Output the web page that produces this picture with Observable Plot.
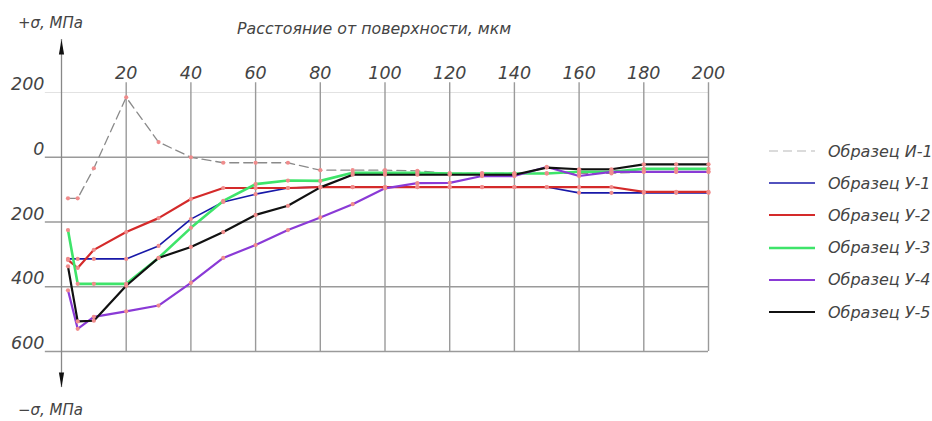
<!DOCTYPE html>
<html><head><meta charset="utf-8">
<script src="https://cdn.jsdelivr.net/npm/d3@7"></script>
<script src="https://cdn.jsdelivr.net/npm/@observablehq/plot@0.6"></script>
<style>
body{margin:0;background:#fff;}
#wrap{position:relative;width:932px;height:421px;overflow:hidden;font-family:"DejaVu Sans",sans-serif;font-style:italic;font-weight:200;color:#444;}
.lbl{position:absolute;white-space:nowrap;}
#legend{position:absolute;left:769px;top:135px;width:260px;white-space:nowrap;}
.row{display:flex;align-items:center;height:32.2px;font-size:16px;white-space:nowrap;}
.row svg{margin-right:13px;flex:none;}
</style>
</head><body>
<div id="wrap">
<div class="lbl" style="left:18px;top:14px;font-size:15px;">+σ, МПа</div>
<div class="lbl" style="left:18px;top:401px;font-size:15px;">−σ, МПа</div>
<div class="lbl" style="left:237px;top:19px;font-size:15.8px;">Расстояние от поверхности, мкм</div>
<div id="legend"></div>
</div>
<script>
// distance from surface, µm
const depth = [2, 5, 10, 20, 30, 40, 50, 60, 70, 80, 90, 100, 110, 120, 130, 140, 150, 160, 170, 180, 190, 200];
// residual stress, MPa
const sampleI1 = [-127, -127, -34, 185, 47, 0, -17, -17, -17, -40, -40, -40, -42, -50, -50, -50, -50, -50, -50, -45, -45, -45];
const sampleU1 = [-314, -314, -314, -314, -274, -191, -138, -114, -95, -92, -92, -92, -92, -92, -92, -92, -92, -110, -110, -110, -110, -110];
const sampleU2 = [-317, -342, -286, -231, -188, -129, -95, -95, -95, -92, -92, -92, -92, -92, -92, -92, -92, -92, -92, -107, -107, -107];
const sampleU3 = [-225, -391, -391, -391, -311, -218, -135, -83, -72, -73, -48, -48, -48, -50, -50, -50, -50, -45, -45, -36, -36, -36];
const sampleU4 = [-411, -530, -493, -476, -458, -388, -311, -271, -225, -186, -145, -96, -80, -79, -58, -58, -30, -58, -45, -45, -45, -45];
const sampleU5 = [-337, -507, -505, -397, -311, -277, -231, -178, -150, -93, -54, -54, -54, -54, -54, -54, -32, -37, -37, -22, -22, -22];
const seriesNames = ["Образец И-1", "Образец У-1", "Образец У-2", "Образец У-3", "Образец У-4", "Образец У-5"];
const xTicks = [20, 40, 60, 80, 100, 120, 140, 160, 180, 200];
const yTicks = [200, 0, -200, -400, -600];
const axisExtent = [-711, 364];

const seriesValues = [sampleI1, sampleU1, sampleU2, sampleU3, sampleU4, sampleU5];
const styles = [
  {stroke: "#8a8a8a", strokeWidth: 1.3, strokeDasharray: "9,5", legendStroke: "#d0d0d0"},
  {stroke: "#1818a8", strokeWidth: 1.6},
  {stroke: "#d42a2a", strokeWidth: 2.2},
  {stroke: "#3ee46a", strokeWidth: 2.6},
  {stroke: "#8a3ad6", strokeWidth: 2.2},
  {stroke: "#111111", strokeWidth: 2.2}
];
const data = seriesNames.map((name, k) => depth.map((x, i) => ({x, y: seriesValues[k][i], s: name})));
const all = data.flat();

const arrowHead = {draw(ctx) { ctx.moveTo(0, 0); ctx.lineTo(-2.6, 15); ctx.lineTo(2.6, 15); ctx.closePath(); }};

const chart = Plot.plot({
  width: 932, height: 421,
  marginLeft: 61, marginRight: 224, marginTop: 92, marginBottom: 70,
  x: {domain: [0, 200]},
  y: {domain: [-600, 200]},
  style: {fontFamily: "'DejaVu Sans', sans-serif", fontStyle: "italic", fontWeight: 200, fontSize: "17.5px", color: "#444", background: "transparent"},
  marks: [
    Plot.ruleY([200], {x1: -5, x2: 200, stroke: "#e2e2e2", strokeWidth: 1.2}),
    Plot.ruleY(yTicks.slice(1), {x1: -5, x2: 200, stroke: "#9a9a9a", strokeWidth: 1.4}),
    Plot.ruleX(xTicks, {y1: -600, y2: 230, stroke: "#9a9a9a", strokeWidth: 1.4}),
    Plot.ruleX([0], {y1: axisExtent[0], y2: axisExtent[1], stroke: "#888", strokeWidth: 1.3}),
    Plot.dot([{y: axisExtent[1]}], {x: () => 0, y: "y", symbol: arrowHead, fill: "#111", stroke: null}),
    Plot.dot([{y: axisExtent[0]}], {x: () => 0, y: "y", symbol: arrowHead, rotate: 180, fill: "#111", stroke: null}),
    ...data.map((d, k) => Plot.line(d, {x: "x", y: "y", stroke: styles[k].stroke, strokeWidth: styles[k].strokeWidth, strokeDasharray: styles[k].strokeDasharray})),
    Plot.dot(all, {x: "x", y: "y", r: 2.1, fill: "#f08c8c", stroke: null}),
    Plot.axisX(xTicks, {anchor: "top", tickSize: 0, tickPadding: 14, label: null, fill: "#444"}),
    Plot.axisY(yTicks, {anchor: "left", tickSize: 0, tickPadding: 17, dy: -8, label: null, tickFormat: d => Math.abs(d), fill: "#444"})
  ]
});
chart.style.position = "absolute";
chart.style.left = "0";
chart.style.top = "0";
document.getElementById("wrap").prepend(chart);

const legend = document.getElementById("legend");
seriesNames.forEach((name, k) => {
  const st = styles[k];
  const row = document.createElement("div");
  row.className = "row";
  row.innerHTML = `<svg width="46" height="6"><line x1="0" y1="3" x2="46" y2="3" stroke="${st.legendStroke || st.stroke}" stroke-width="${k === 0 ? 1.3 : st.strokeWidth}" ${st.strokeDasharray ? `stroke-dasharray="${st.strokeDasharray}"` : ""}/></svg><span>${name}</span>`;
  legend.appendChild(row);
});
</script>
</body></html>
